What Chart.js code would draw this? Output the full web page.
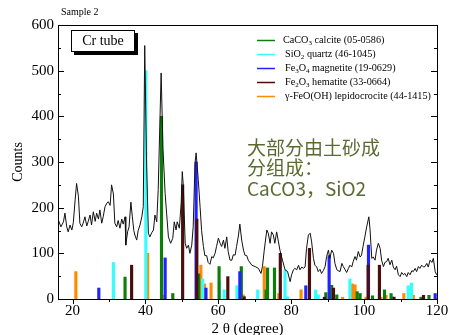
<!DOCTYPE html>
<html><head><meta charset="utf-8">
<script src="https://cdn.jsdelivr.net/npm/chart.js@4.4.0/dist/chart.umd.min.js"></script>
<style>html,body{margin:0;padding:0;background:#fff;}#wrap{width:449px;height:335px;}</style>
</head><body><div id="wrap"><canvas id="c" width="449" height="335"></canvas></div>
<script>
// observed pattern
const obsTheta = [16.1,16.8,17.5,17.9,18.4,18.8,19.3,19.8,20.2,20.7,21.1,21.6,22.0,22.5,22.9,23.4,23.9,24.3,24.8,25.2,25.7,26.2,26.6,27.1,27.5,28.0,28.4,28.9,29.4,29.8,30.3,30.7,31.2,31.6,32.1,32.5,33.0,33.5,33.9,34.4,34.6,35.1,35.5,36.0,36.4,36.8,37.1,37.6,38.0,38.5,39.0,39.4,39.8,40.3,40.8,41.2,41.7,42.2,42.6,43.1,43.5,44.3,44.8,45.4,45.8,46.3,46.9,47.5,47.9,48.4,48.7,49.3,49.8,50.1,50.4,50.9,51.3,51.8,52.2,52.7,53.1,53.6,53.9,54.5,55.0,55.4,55.9,56.3,56.8,57.2,57.7,58.2,58.6,59.1,59.5,60.0,60.5,60.9,61.4,61.8,62.3,62.7,63.2,63.7,64.1,64.6,65.0,65.5,65.9,66.4,66.9,67.3,67.8,68.2,69.2,70.1,71.0,71.7,72.1,72.6,73.3,73.7,74.2,74.6,75.1,75.5,76.0,76.5,76.9,77.6,78.3,79.0,79.7,80.1,80.6,81.0,81.5,82.0,82.4,82.9,83.3,83.8,84.2,84.7,85.2,85.6,86.1,86.5,87.0,87.4,87.9,88.3,88.8,89.3,89.7,90.2,90.6,91.1,91.6,92.0,92.5,92.9,93.4,93.9,94.3,94.8,95.2,95.7,96.1,96.6,97.0,97.5,97.9,98.4,98.9,99.3,99.7,100.2,100.7,101.3,101.6,102.1,102.5,103.0,103.4,103.9,104.4,104.8,105.3,105.7,106.2,106.6,107.1,107.6,108.0,108.5,108.9,109.4,109.9,110.3,110.8,111.2,111.7,112.1,112.6,113.1,113.5,114.0,114.4,114.9,115.3,115.8,116.3,116.7,117.2,117.6,118.1,118.6,119.0,119.5,119.9];
const obsCounts = [173,158,169,188,158,147,162,151,167,217,253,225,166,158,166,180,160,170,184,162,191,170,188,175,195,166,180,202,210,213,205,250,230,166,158,172,155,175,164,180,118,147,158,212,180,150,140,129,150,162,180,202,555,300,144,136,145,151,184,169,240,495,330,231,188,136,122,133,169,151,169,155,210,279,246,122,111,118,100,118,158,297,320,260,200,150,115,95,95,80,76,93,90,100,115,133,122,115,129,111,136,104,85,85,97,96,115,138,164,129,107,96,95,85,74,71,67,56,71,107,151,144,122,147,140,122,147,125,107,85,64,60,38,53,64,67,64,74,64,70,67,70,111,140,144,125,89,74,70,60,65,56,62,71,93,107,89,107,100,78,64,62,60,78,71,64,58,67,74,70,82,93,85,104,92,96,115,136,158,180,155,89,92,85,107,122,111,85,71,80,82,89,75,85,70,64,72,53,49,58,53,56,49,58,53,62,60,67,60,71,67,74,70,71,78,70,85,80,89,60,53];

// reference patterns (stick positions / intensities)
const calciteTheta = [34.4,44.4,47.5,54.6,60.2,66.3,73.1,73.5,75.4,89.5,91.1,92.5,98.1,98.9,102.3,105.6,107.4,115.6,117.8];
const calciteCounts = [48,400,12,55,71,71,20,68,68,14,30,9,16,12,7,20,12,4,8];
const quartzTheta = [31.2,40.1,55.7,60.3,61.6,65.1,70.8,78.3,79.0,86.7,87.4,90.7,96.1,104.2,107.8,112.1,113.0];
const quartzCounts = [80,500,44,39,20,29,20,64,5,20,9,10,44,8,6,29,35];
const magnetiteTheta = [27.2,45.4,53.9,56.6,65.9,84.0,90.4,101.2,119.5];
const magnetiteCounts = [24,90,300,24,60,29,95,118,12];
const hematiteTheta = [36.2,50.2,54.1,62.6,67.1,77.0,85.0,89.1,91.6,101.1,104.2,108.2,116.3];
const hematiteCounts = [74,250,175,49,5,100,111,4,24,74,74,4,8];
const lepidoTheta = [20.9,40.6,45.2,55.2,56.2,58.0,66.8,72.6,76.6,82.7,94.1,96.8,97.5,100.5,104.6,106.0,110.9,113.5];
const lepidoCounts = [60,100,8,74,33,35,9,71,12,20,4,33,31,4,4,8,12,8];

const xTicks = [20,40,60,80,100,120];
const yTicks = [0,100,200,300,400,500,600];
const legendLabels = ['CaCO_3 calcite (05-0586)','SiO_2 quartz (46-1045)','Fe_3O_4 magnetite (19-0629)','Fe_2O_3 hematite (33-0664)','γ-FeO(OH) lepidocrocite (44-1415)'];
const legendColors = ['#0a800a','#33ffff','#2222ff','#4a0e0e','#ff8a00'];
const noteLines = ['大部分由土砂成','分组成：','CaCO3，SiO2'];

const SERIF = '"Liberation Serif","Times New Roman",serif';
const pts = (xs, ys) => xs.map((x, i) => ({x: x, y: ys[i]}));
const stick = (label, xs, ys, color, order) => ({
  type: 'bar', label, data: pts(xs, ys), backgroundColor: color, borderWidth: 0,
  barThickness: 2.5, grouped: false, order
});

const decor = {
  id: 'decor',
  afterDraw(chart) {
    const ctx = chart.ctx, a = chart.chartArea, xs = chart.scales.x, ys = chart.scales.y;
    ctx.save();
    ctx.strokeStyle = '#000'; ctx.lineWidth = 1;
    ctx.strokeRect(Math.round(a.left) + 0.5, Math.round(a.top) + 0.5, Math.round(a.right - a.left), Math.round(a.bottom - a.top));
    // y ticks (inward, both sides)
    ctx.beginPath();
    for (let v = 0; v <= 600; v += 50) {
      const y = Math.round(ys.getPixelForValue(v)) + 0.5;
      const L = v % 100 === 0 ? 6 : 3;
      ctx.moveTo(a.left, y); ctx.lineTo(a.left + L, y);
      ctx.moveTo(a.right, y); ctx.lineTo(a.right - L, y);
    }
    // x ticks (outward, bottom)
    for (let v = 20; v <= 120; v += 10) {
      const x = Math.round(xs.getPixelForValue(v)) + 0.5;
      const L = v % 20 === 0 ? 5 : 3;
      ctx.moveTo(x, a.bottom); ctx.lineTo(x, a.bottom + L);
    }
    ctx.stroke();

    // Cr tube box
    ctx.fillStyle = '#000';
    ctx.fillRect(74, 33, 64, 22);
    ctx.fillStyle = '#fff';
    ctx.fillRect(71, 30, 64, 22);
    ctx.strokeRect(71.5, 30.5, 63, 21);
    ctx.fillStyle = '#000';
    ctx.font = '14px ' + SERIF;
    ctx.textAlign = 'center'; ctx.textBaseline = 'middle';
    ctx.fillText('Cr tube', 103, 41.5);

    // Sample label
    ctx.textAlign = 'left';
    ctx.font = '10px ' + SERIF;
    ctx.fillText('Sample 2', 61, 12);

    // legend
    legendLabels.forEach((lab, i) => {
      const y = 40 + i * 14;
      ctx.strokeStyle = legendColors[i]; ctx.lineWidth = 1.5;
      ctx.beginPath(); ctx.moveTo(257, y + 0.5); ctx.lineTo(275, y + 0.5); ctx.stroke();
      let x = i === 0 ? 283 : 285;
      ctx.fillStyle = '#000'; ctx.textBaseline = 'middle';
      lab.split(/_(\d)/).forEach((part, k) => {
        if (k % 2 === 1) { ctx.font = '7px ' + SERIF; ctx.fillText(part, x, y + 3); }
        else { ctx.font = '10.2px ' + SERIF; ctx.fillText(part, x, y); }
        x += ctx.measureText(part).width;
      });
    });

    // note
    ctx.fillStyle = '#5b6b30';
    ctx.font = '19px "Noto Sans CJK SC","Noto Sans",sans-serif';
    ctx.textBaseline = 'middle';
    noteLines.forEach((t, i) => ctx.fillText(t, 247, 147.5 + i * 20.5));
    ctx.restore();
  }
};

new Chart(document.getElementById('c'), {
  type: 'bar',
  data: {
    datasets: [
      {type: 'line', label: 'Sample 2', data: pts(obsTheta, obsCounts), borderColor: '#111', borderWidth: 1,
       pointRadius: 0, tension: 0, fill: false, order: 0},
      stick('Fe2O3 hematite', hematiteTheta, hematiteCounts, legendColors[3], 1),
      stick('Fe3O4 magnetite', magnetiteTheta, magnetiteCounts, legendColors[2], 2),
      stick('CaCO3 calcite', calciteTheta, calciteCounts, legendColors[0], 3),
      stick('SiO2 quartz', quartzTheta, quartzCounts, legendColors[1], 4),
      stick('γ-FeO(OH) lepidocrocite', lepidoTheta, lepidoCounts, legendColors[4], 5)
    ]
  },
  options: {
    responsive: false, animation: false, devicePixelRatio: 1,
    layout: {padding: {top: 25, right: 12, left: 0, bottom: 0}},
    plugins: {legend: {display: false}, tooltip: {enabled: false}},
    scales: {
      x: {
        type: 'linear', min: 16, max: 120, offset: false,
        afterBuildTicks: s => { s.ticks = xTicks.map(v => ({value: v})); },
        ticks: {font: {family: SERIF, size: 15}, color: '#000', padding: 3, maxRotation: 0, autoSkip: false},
        grid: {display: false, drawTicks: false}, border: {display: false},
        title: {display: true, text: '2 θ (degree)', color: '#000', font: {family: SERIF, size: 15, lineHeight: 1}, padding: {top: 0, bottom: -2}},
        afterFit: s => { s.height = 36; s.paddingLeft = 0; s.paddingRight = 0; }
      },
      y: {
        type: 'linear', min: 0, max: 600,
        afterBuildTicks: s => { s.ticks = yTicks.map(v => ({value: v})); },
        ticks: {font: {family: SERIF, size: 15}, color: '#000', padding: 4},
        grid: {display: false, drawTicks: false}, border: {display: false},
        title: {display: true, text: 'Counts', color: '#000', font: {family: SERIF, size: 14}, padding: {top: 10, bottom: 0}},
        afterFit: s => { s.width = 58; s.paddingTop = 0; s.paddingBottom = 0; }
      }
    }
  },
  plugins: [decor]
});
</script></body></html>
